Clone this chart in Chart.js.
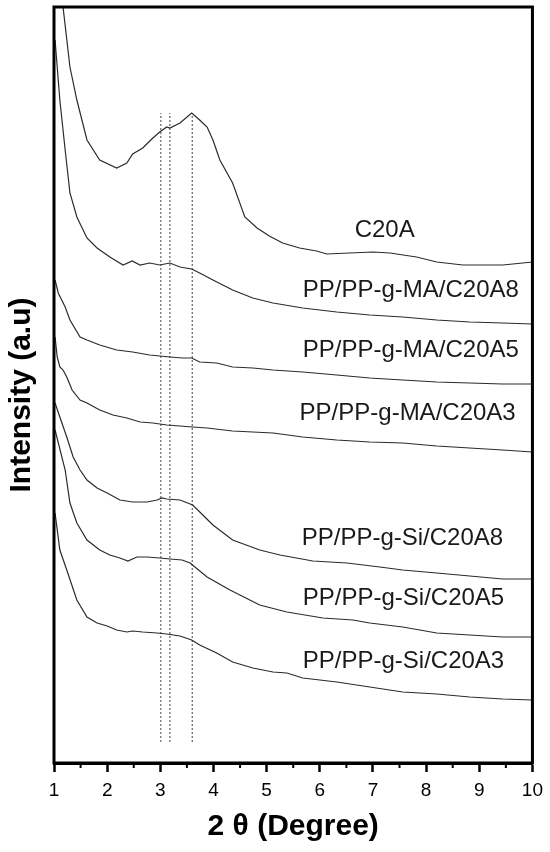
<!DOCTYPE html>
<html>
<head>
<meta charset="utf-8">
<script src="https://cdn.jsdelivr.net/npm/chart.js@4.4.0/dist/chart.umd.min.js"></script>
<style>
  html, body { margin:0; padding:0; background:#fff; }
  #wrap { width:550px; height:852px; }
</style>
</head>
<body>
<div id="wrap"><canvas id="xrd" width="550" height="852"></canvas></div>
<script>
// ---------------- DATA (2θ, intensity a.u.) ----------------
const c20a = [[1.10,830],[1.17,756],[1.30,696],[1.43,663],[1.62,623],[1.86,603],[2.18,595],[2.37,600],[2.48,609],[2.67,615],[2.86,625],[2.99,631],[3.12,636],[3.18,635],[3.37,640],[3.59,650],[3.74,643],[3.88,636],[3.99,623],[4.12,603],[4.36,580],[4.59,546],[4.82,535],[5.05,527],[5.30,520],[5.62,515],[5.94,512],[6.13,509],[6.56,510],[7.00,511],[7.32,510],[7.82,506],[8.20,501],[8.69,498],[9.44,498],[9.82,500],[10.0,501]];
const ma8 = [[1.02,723],[1.11,663],[1.21,613],[1.30,570],[1.43,546],[1.62,525],[1.81,515],[2.05,506],[2.30,498],[2.47,502],[2.62,498],[2.80,500],[2.99,498],[3.18,500],[3.37,496],[3.59,494],[3.74,490],[3.99,483],[4.36,473],[4.74,465],[5.12,460],[5.68,455],[6.32,451],[6.94,448],[7.56,446],[8.20,443],[8.82,441],[9.44,440],[10.0,439]];
const ma5 = [[1.02,483],[1.08,470],[1.21,456],[1.30,443],[1.49,426],[1.62,423],[1.86,418],[2.18,413],[2.48,411],[2.80,408],[2.99,407],[3.18,406],[3.42,405],[3.59,405],[3.74,401],[4.06,400],[4.36,396],[4.74,395],[5.12,393],[5.68,391],[6.32,388],[6.94,385],[7.56,383],[8.20,381],[8.82,380],[9.44,379],[10.0,379]];
const ma3 = [[1.02,426],[1.06,406],[1.11,396],[1.17,393],[1.24,386],[1.34,373],[1.49,363],[1.62,360],[1.86,353],[2.11,348],[2.37,345],[2.62,341],[2.86,340],[3.12,338],[3.37,337],[3.61,336],[3.88,335],[4.36,332],[4.74,331],[5.12,330],[5.68,326],[6.32,323],[6.94,321],[7.56,320],[8.20,317],[8.82,315],[9.44,313],[10.0,311]];
const si8 = [[1.02,360],[1.11,346],[1.24,326],[1.36,306],[1.49,293],[1.62,283],[1.81,275],[2.00,270],[2.24,263],[2.48,261],[2.75,261],[2.94,263],[3.03,265],[3.12,264],[3.37,263],[3.61,258],[3.99,238],[4.36,223],[4.87,213],[5.25,208],[5.87,202],[6.51,200],[7.13,196],[7.56,193],[8.20,190],[8.82,187],[9.44,184],[10.0,184]];
const si5 = [[1.02,333],[1.21,293],[1.30,260],[1.43,240],[1.62,223],[1.86,213],[2.05,208],[2.24,205],[2.39,202],[2.56,206],[2.75,206],[2.99,205],[3.18,204],[3.41,203],[3.56,200],[3.88,186],[4.31,173],[4.87,158],[5.38,151],[6.06,145],[6.62,143],[6.94,140],[7.56,136],[8.20,130],[8.82,128],[9.44,126],[10.0,126]];
const si3 = [[1.02,250],[1.11,213],[1.24,193],[1.43,163],[1.62,146],[1.81,140],[2.00,137],[2.18,133],[2.37,131],[2.48,132],[2.67,131],[2.94,130],[3.12,129],[3.37,127],[3.59,123],[3.74,118],[4.06,110],[4.36,101],[4.74,95],[5.12,91],[5.38,90],[5.68,85],[6.32,81],[6.94,76],[7.56,71],[8.20,69],[8.82,66],[9.44,64],[10.0,63]];

const seriesNames = ['C20A','PP/PP-g-MA/C20A8','PP/PP-g-MA/C20A5','PP/PP-g-MA/C20A3','PP/PP-g-Si/C20A8','PP/PP-g-Si/C20A5','PP/PP-g-Si/C20A3'];
const seriesData = [c20a, ma8, ma5, ma3, si8, si5, si3];

// reference peak positions (dotted lines)
const peakPositions = [3.01, 3.18, 3.60];
const peakLineRange = [21, 650];

const xTicks = [1,2,3,4,5,6,7,8,9,10];

// where each curve name sits (2θ, intensity), kept apart from the data
const labelAnchors = [[7.22,526,'center'],[5.68,466,'left'],[5.68,406,'left'],[5.62,343,'left'],[5.66,218,'left'],[5.68,158,'left'],[5.68,95,'left']];

const FONT = '"Liberation Sans", Arial, Helvetica, sans-serif';

// ---------------- DATASETS ----------------
const datasets = seriesData.map((arr, i) => ({
    label: seriesNames[i],
    data: arr.map(p => ({x: p[0], y: p[1]})),
    borderColor: '#2b2b2b',
    borderWidth: 1.2,
    pointRadius: 0,
    tension: 0,
    fill: false
}));

peakPositions.forEach(px => {
    datasets.push({
        label: 'peak ' + px,
        data: [{x: px, y: peakLineRange[0]}, {x: px, y: peakLineRange[1]}],
        borderColor: '#444',
        borderWidth: 1,
        borderDash: [2, 2],
        pointRadius: 0,
        fill: false
    });
});

// ---------------- PLUGIN: frame, minor ticks, texts ----------------
const decor = {
    id: 'decor',
    afterDraw(chart){
        const {ctx, chartArea: a, scales: {x, y}} = chart;
        ctx.save();

        // frame
        ctx.strokeStyle = '#000';
        ctx.lineWidth = 3;
        ctx.strokeRect(a.left, a.top, a.right - a.left, a.bottom - a.top);

        // minor ticks
        ctx.lineWidth = 2;
        for(let v = 1.5; v < 10; v += 1){
            const px = x.getPixelForValue(v);
            ctx.beginPath();
            ctx.moveTo(px, a.bottom);
            ctx.lineTo(px, a.bottom + 5);
            ctx.stroke();
        }

        // curve names
        ctx.fillStyle = '#1a1a1a';
        ctx.font = '24px ' + FONT;
        ctx.textBaseline = 'alphabetic';
        seriesNames.forEach((name, i) => {
            const an = labelAnchors[i];
            ctx.textAlign = an[2];
            ctx.fillText(name, x.getPixelForValue(an[0]), y.getPixelForValue(an[1]));
        });

        // y axis title
        ctx.translate(22, 395);
        ctx.rotate(-Math.PI / 2);
        ctx.fillStyle = '#000';
        ctx.font = 'bold 30px ' + FONT;
        ctx.textAlign = 'center';
        ctx.textBaseline = 'middle';
        ctx.fillText('Intensity (a.u)', 0, 0);

        ctx.restore();
    }
};

new Chart(document.getElementById('xrd').getContext('2d'), {
    type: 'line',
    data: { datasets },
    options: {
        responsive: false,
        animation: false,
        layout: { padding: { left: 54, right: 17, top: 7, bottom: 0 } },
        plugins: { legend: { display: false }, tooltip: { enabled: false } },
        scales: {
            x: {
                type: 'linear',
                min: 1, max: 10,
                afterBuildTicks: s => { s.ticks = xTicks.map(v => ({value: v})); },
                ticks: { color: '#000', font: { size: 19, family: FONT }, padding: 7, maxRotation: 0, autoSkip: false },
                grid: { drawOnChartArea: false, tickLength: 9, tickWidth: 2.5, tickColor: '#000' },
                border: { display: true, color: '#000', width: 3 },
                title: { display: true, text: '2 θ (Degree)', color: '#000', font: { size: 30, weight: 'bold', family: FONT }, padding: { top: 0, bottom: 7 } },
                afterFit: s => { s.height = 89; }
            },
            y: {
                type: 'linear',
                display: false,
                min: 0, max: 756
            }
        }
    },
    plugins: [decor]
});
</script>
</body>
</html>
